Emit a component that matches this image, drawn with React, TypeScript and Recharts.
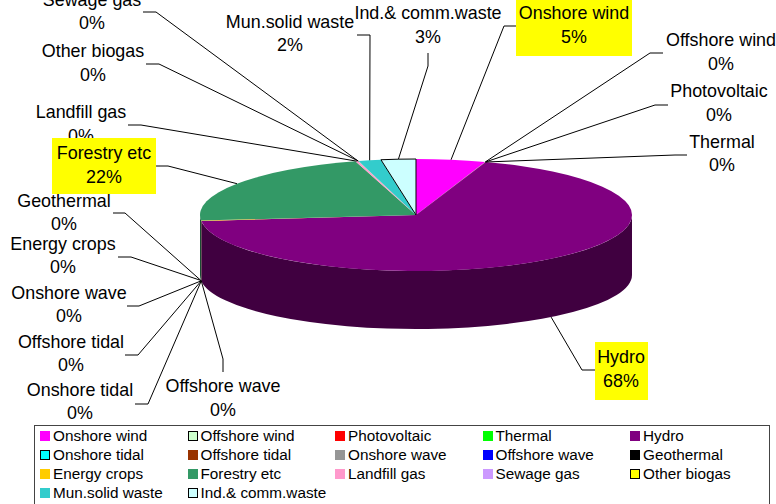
import React from 'react';
import { PieChart, Pie, Legend } from 'recharts';

const categories = [
  'Onshore wind', 'Offshore wind', 'Photovoltaic', 'Thermal', 'Hydro',
  'Onshore tidal', 'Offshore tidal', 'Onshore wave', 'Offshore wave', 'Geothermal',
  'Energy crops', 'Forestry etc', 'Landfill gas', 'Sewage gas', 'Other biogas',
  'Mun.solid waste', 'Ind.& comm.waste',
];
const shares = [
  5.2, 0.02, 0.01, 0.01, 68.2,
  0.01, 0.01, 0.01, 0.01, 0.01,
  0.12, 22.1, 0.2, 0.02, 0.02,
  1.7, 2.6,
];
const colors = [
  '#FF00FF', '#CCFFCC', '#FF0000', '#00FF00', '#800080',
  '#00FFFF', '#993300', '#969696', '#0000FF', '#000000',
  '#FFCC00', '#339966', '#FF99CC', '#CC99FF', '#FFFF00',
  '#33CCCC', '#CCFFFF',
];
const darkColors = [
  '#800080', '#668066', '#800000', '#008000', '#400040',
  '#008080', '#4d1a00', '#4b4b4b', '#000080', '#000000',
  '#806600', '#1a4d33', '#804d66', '#664d80', '#808000',
  '#1a6666', '#668080',
];
const boxedInLegend = ['Offshore wind', 'Onshore tidal', 'Other biogas', 'Ind.& comm.waste'];

const rows = categories.map((name, i) => ({ name, value: shares[i], fill: colors[i] }));

// the pie is squashed by hand, recharts only does round ones
const RADIUS = 216;
const RADIUS_Y = 56;
const BOTTOM_RADIUS_Y = 54;
const DEPTH = 60;

// label centre x, two line centres, leader elbow and end, optional yellow box
type Place = { x: number; y1: number; y2: number; elbow: [number, number]; end: [number, number]; box?: [number, number, number, number] };
const placement: Record<string, Place> = {
  'Onshore wind': { x: 574, y1: 13, y2: 37, elbow: [504, 26], end: [516, 26], box: [516, 0, 116, 56] },
  'Offshore wind': { x: 721, y1: 40, y2: 64, elbow: [650, 53], end: [663, 53] },
  'Photovoltaic': { x: 719, y1: 91, y2: 115, elbow: [655, 105], end: [668, 105] },
  'Thermal': { x: 722, y1: 142, y2: 165, elbow: [675, 155], end: [687, 155] },
  'Hydro': { x: 621, y1: 357, y2: 381, elbow: [582, 370], end: [595, 370], box: [595, 342, 53, 58] },
  'Onshore tidal': { x: 80, y1: 390, y2: 413, elbow: [148, 404], end: [135, 404] },
  'Offshore tidal': { x: 71, y1: 342, y2: 365, elbow: [138, 355], end: [125, 355] },
  'Onshore wave': { x: 69, y1: 293, y2: 316, elbow: [139, 306], end: [127, 306] },
  'Offshore wave': { x: 223, y1: 386, y2: 410, elbow: [223, 359], end: [223, 372] },
  'Geothermal': { x: 64, y1: 201, y2: 224, elbow: [125, 213], end: [113, 213] },
  'Energy crops': { x: 63, y1: 244, y2: 267, elbow: [131, 257], end: [118, 257] },
  'Forestry etc': { x: 104, y1: 153, y2: 177, elbow: [168, 166], end: [156, 166], box: [52, 138, 104, 56] },
  'Landfill gas': { x: 81, y1: 112, y2: 136, elbow: [141, 125], end: [128, 125] },
  'Sewage gas': { x: 92, y1: 0, y2: 23, elbow: [156, 12], end: [143, 12] },
  'Other biogas': { x: 93, y1: 51, y2: 75, elbow: [159, 64], end: [146, 64] },
  'Mun.solid waste': { x: 290, y1: 22, y2: 45, elbow: [370, 35], end: [357, 35] },
  'Ind.& comm.waste': { x: 428, y1: 13, y2: 37, elbow: [428, 66], end: [428, 53] },
};

const rim = (cx: number, cy: number, deg: number) => {
  const t = (deg * Math.PI) / 180;
  return [cx + RADIUS * Math.sin(t), cy - RADIUS_Y * Math.cos(t)];
};

const bottomRim = (cx: number, cy: number, deg: number) => {
  const t = (deg * Math.PI) / 180;
  return [cx + RADIUS * Math.sin(t), cy + DEPTH - BOTTOM_RADIUS_Y * Math.cos(t)];
};

const Slice3D = (props: any) => {
  const { cx, cy, startAngle, endAngle, name } = props;
  const a = 90 - startAngle;
  const b = 90 - endAngle;
  const [x1, y1] = rim(cx, cy, a);
  const [x2, y2] = rim(cx, cy, b);
  const large = b - a > 180 ? 1 : 0;
  const top = `M${cx},${cy}L${x1},${y1}A${RADIUS},${RADIUS_Y} 0 ${large} 1 ${x2},${y2}Z`;
  const i = categories.indexOf(name);
  const wa = Math.max(a, 90);
  const wb = Math.min(b, 270);
  let wall = null;
  if (wb > wa) {
    const [p1, q1] = rim(cx, cy, wa);
    const [p2, q2] = rim(cx, cy, wb);
    const [r1, s1] = bottomRim(cx, cy, wa);
    const [r2, s2] = bottomRim(cx, cy, wb);
    wall = (
      <path
        d={`M${p1},${q1}A${RADIUS},${RADIUS_Y} 0 0 1 ${p2},${q2}L${r2},${s2}A${RADIUS},${BOTTOM_RADIUS_Y} 0 0 0 ${r1},${s1}Z`}
        fill={darkColors[i]}
      />
    );
  }
  return (
    <g>
      {wall}
      <path d={top} fill={colors[i]} stroke={name === 'Ind.& comm.waste' ? '#000' : 'none'} />
    </g>
  );
};

const NoSlice = () => <g />;

const SliceLabel = ({ cx, cy, midAngle, name, percent }: any) => {
  const p = placement[name];
  const deg = 90 - midAngle;
  const front = Math.cos((deg * Math.PI) / 180) < 0;
  const [sx, sy] = front ? bottomRim(cx, cy, deg) : rim(cx, cy, deg);
  return (
    <g>
      <polyline
        points={`${sx},${sy} ${p.elbow[0]},${p.elbow[1]} ${p.end[0]},${p.end[1]}`}
        fill="none"
        stroke="#000"
        strokeWidth={1}
      />
      {p.box && <rect x={p.box[0]} y={p.box[1]} width={p.box[2]} height={p.box[3]} fill="#FFFF00" />}
      <text x={p.x} y={p.y1} textAnchor="middle" dominantBaseline="central" fontSize={17.9} fill="#000">{name}</text>
      <text x={p.x} y={p.y2} textAnchor="middle" dominantBaseline="central" fontSize={17.9} fill="#000">
        {`${Math.round(percent * 100)}%`}
      </text>
    </g>
  );
};

// yellow boxes sit above the other labels, so they get their own pass
const plainLabel = (props: any) => (placement[props.name].box ? <g key={props.name} /> : <SliceLabel key={props.name} {...props} />);
const boxLabel = (props: any) => (placement[props.name].box ? <SliceLabel key={props.name} {...props} /> : <g key={props.name} />);

const LegendBox = ({ payload }: any) => {
  // both pies report their slices, keep one of each in data order
  const items = categories
    .map((name) => (payload || []).find((item: any) => item.value === name))
    .filter(Boolean);
  return (
    <div
      style={{
        display: 'grid',
        gridTemplateColumns: '147.5px 147.5px 147.5px 147.5px 140px',
        gridAutoRows: '19px',
        boxSizing: 'border-box',
        width: 736,
        height: 90,
        padding: '0 0 0 5px',
        border: '1px solid #444',
        background: '#fff',
        fontSize: 15.3,
        color: '#000',
      }}
    >
      {items.map((item: any) => (
        <div key={item.value} style={{ display: 'flex', alignItems: 'center', whiteSpace: 'nowrap' }}>
          <span
            style={{
              display: 'inline-block',
              boxSizing: 'border-box',
              width: 10,
              height: 10,
              marginRight: 3,
              background: item.color,
              border: boxedInLegend.includes(item.value) ? '1px solid #000' : 'none',
            }}
          />
          {item.value}
        </div>
      ))}
    </div>
  );
};

export default function App() {
  return (
    <div style={{ position: 'absolute', left: 0, top: 0, width: 776, height: 504, overflow: 'hidden', fontFamily: '"Liberation Sans", Arial, sans-serif' }}>
      <PieChart width={776} height={504} margin={{ top: 0, right: 0, bottom: 0, left: 0 }}>
        <Pie
          data={rows}
          dataKey="value"
          nameKey="name"
          cx={416}
          cy={215}
          outerRadius={RADIUS}
          startAngle={90}
          endAngle={-270}
          shape={Slice3D}
          label={plainLabel}
          labelLine={false}
          isAnimationActive={false}
        />
        <Pie
          data={rows}
          dataKey="value"
          nameKey="name"
          cx={416}
          cy={215}
          outerRadius={RADIUS}
          startAngle={90}
          endAngle={-270}
          shape={NoSlice}
          label={boxLabel}
          labelLine={false}
          legendType="none"
          isAnimationActive={false}
        />
        <Legend content={<LegendBox />} itemSorter={null} wrapperStyle={{ left: 34, top: 425, width: 736, bottom: 'auto' }} />
      </PieChart>
    </div>
  );
}
